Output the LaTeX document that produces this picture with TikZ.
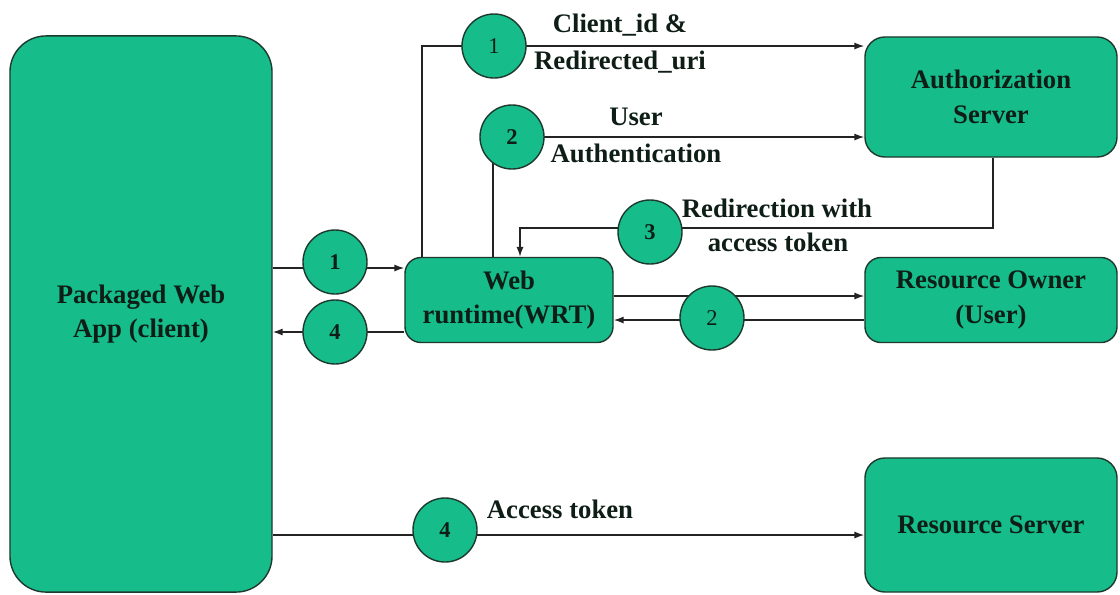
\documentclass[tikz,border=0pt]{standalone}
\usepackage{fontspec}
\setmainfont{Liberation Serif}[BoldFont={Liberation Serif Bold}]
\usetikzlibrary{arrows.meta}
\definecolor{boxfill}{RGB}{22,188,138}
\definecolor{boxedge}{RGB}{30,58,46}
\definecolor{ink}{RGB}{14,30,22}
\definecolor{wire}{RGB}{35,35,35}
\tikzset{
  box/.style={draw=boxedge, fill=boxfill, line width=1pt, text=ink, align=center,
    inner sep=0pt, font=\fontsize{19}{24.5}\selectfont\bfseries},
  badge/.style={circle, draw=boxedge, fill=boxfill, line width=1pt, text=ink,
    minimum size=1.6cm, inner sep=0pt, font=\fontsize{16}{18}\selectfont\bfseries},
  thin badge/.style={badge, font=\fontsize{16}{18}\selectfont\mdseries},
  wirelabel/.style={text=ink, align=center, inner sep=0pt,
    font=\fontsize{19}{24.5}\selectfont\bfseries},
  arr/.style={draw=wire, line width=1pt, -{Latex[length=7pt,width=5pt]}},
}
\begin{document}
\begin{tikzpicture}[x=0.025cm, y=-0.025cm]
\useasboundingbox[fill=white] (0,0) rectangle (1120,594);

% boxes
\node[box, rounded corners=0.9cm, minimum width=6.55cm, minimum height=13.9cm]
  (app) at (141,314) {Packaged Web\\App (client)};
\node[box, rounded corners=0.5cm, minimum width=6.3cm, minimum height=3cm]
  (auth) at (991,97) {Authorization\\Server};
\node[box, rounded corners=0.4cm, minimum width=5.2cm, minimum height=2.125cm]
  (wrt) at (509,300) {Web\\runtime(WRT)};
\node[box, rounded corners=0.4cm, minimum width=6.3cm, minimum height=2.125cm]
  (owner) at (991,300) {Resource Owner\\(User)};
\node[box, rounded corners=0.5cm, minimum width=6.3cm, minimum height=3.35cm]
  (rs) at (991,525) {Resource Server};

% routing points
\coordinate (k1) at (422,46);
\coordinate (k2) at (493,137);
\coordinate (k3) at (993,228);
\coordinate (k3b) at (520,228);
\coordinate (la) at (0,268);
\coordinate (lb) at (0,332);
\coordinate (ra) at (0,296);
\coordinate (rb) at (0,320);
\coordinate (bt) at (0,535);

% connectors
\draw[arr] (wrt.north -| k1) |- (auth.west |- k1);
\draw[arr] (wrt.north -| k2) |- (auth.west |- k2);
\draw[arr] (auth.south -| k3) |- (k3b) -- (wrt.north -| k3b);
\draw[arr] (app.east |- la) -- (wrt.west |- la);
\draw[arr] (wrt.west |- lb) -- (app.east |- lb);
\draw[arr] (wrt.east |- ra) -- (owner.west |- ra);
\draw[arr] (owner.west |- rb) -- (wrt.east |- rb);
\draw[arr] (app.east |- bt) -- (rs.west |- bt);

% step badges
\node[thin badge] (s1a) at (494,46) {1};
\node[badge] (s2a) at (512,137) {2};
\node[badge] (s3) at (650,232) {3};
\node[badge] (s1b) at (335,262) {1};
\node[badge] (s4a) at (335,332) {4};
\node[thin badge] (s2b) at (712,318) {2};
\node[badge] (s4b) at (445,530) {4};

% labels
\node[wirelabel] (t1) at (620,25) {Client\_id \&};
\node[wirelabel] (t2) at (620,62) {Redirected\_uri};
\node[wirelabel] (t3) at (636,117) {User};
\node[wirelabel] (t4) at (636,153) {Authentication};
\node[wirelabel] (t5) at (777,208) {Redirection with};
\node[wirelabel] (t6) at (778,242) {access token};
\node[wirelabel] (t7) at (560,509) {Access token};
\end{tikzpicture}
\end{document}
